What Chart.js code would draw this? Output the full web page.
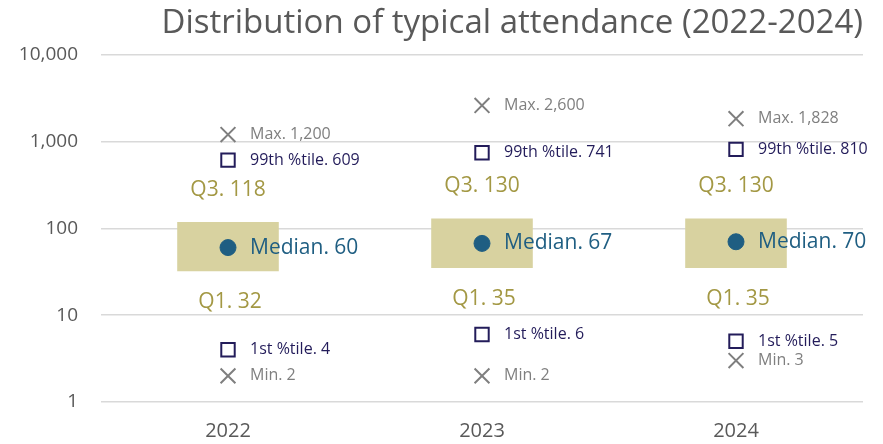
<!DOCTYPE html>
<html>
<head>
<meta charset="utf-8">
<script src="https://cdn.jsdelivr.net/npm/chart.js@4"></script>
<style>
    html, body { margin: 0; padding: 0; background: #ffffff; }
    #wrap { width: 883px; height: 444px; }
</style>
</head>
<body>
<div id="wrap"><canvas id="chart"></canvas></div>
<script>
const years = ['2022', '2023', '2024'];
const maxVals = [1200, 2600, 1828];
const p99Vals = [609, 741, 810];
const q3Vals = [118, 130, 130];
const medianVals = [60, 67, 70];
const q1Vals = [32, 35, 35];
const p1Vals = [4, 6, 5];
const minVals = [2, 2, 3];
const yTicks = [1, 10, 100, 1000, 10000];

const FONT = "'Open Sans', sans-serif";
const fmt = v => v.toLocaleString('en-US');

// labels next to the markers, drawn after the datasets
const labelPlugin = {
    id: 'boxLabels',
    afterDatasetsDraw(chart) {
        const ctx = chart.ctx;
        const xs = chart.scales.x;
        const ys = chart.scales.y;
        ctx.save();
        ctx.textBaseline = 'middle';

        const side = (vals, prefix, color, size) => {
            ctx.font = size + 'px ' + FONT;
            ctx.fillStyle = color;
            ctx.textAlign = 'left';
            vals.forEach((v, i) => {
                ctx.fillText(prefix + fmt(v), xs.getPixelForValue(i) + 22, ys.getPixelForValue(v));
            });
        };
        side(maxVals, 'Max. ', '#7f7f7f', 16);
        side(p99Vals, '99th %tile. ', '#231c5a', 16);
        side(medianVals, 'Median. ', '#1f5e82', 21);
        side(p1Vals, '1st %tile. ', '#231c5a', 16);
        side(minVals, 'Min. ', '#7f7f7f', 16);

        ctx.font = '21px ' + FONT;
        ctx.fillStyle = '#a39844';
        ctx.textAlign = 'center';
        q3Vals.forEach((v, i) => {
            ctx.fillText('Q3. ' + fmt(v), xs.getPixelForValue(i), ys.getPixelForValue(v) - 32);
        });
        q1Vals.forEach((v, i) => {
            ctx.fillText('Q1. ' + fmt(v), xs.getPixelForValue(i) + 2, ys.getPixelForValue(v) + 31);
        });
        ctx.restore();
    }
};

const markerSet = (label, data, style, radius, border, fill, width) => ({
    type: 'line',
    label: label,
    data: data,
    showLine: false,
    pointStyle: style,
    pointRadius: radius,
    pointHoverRadius: radius,
    pointBorderColor: border,
    pointBackgroundColor: fill,
    pointBorderWidth: width
});

new Chart(document.getElementById('chart').getContext('2d'), {
    data: {
        labels: years,
        datasets: [
            markerSet('Median', medianVals, 'circle', 8, '#1f5e82', '#1f5e82', 1),
            markerSet('Max', maxVals, 'crossRot', 10.5, '#7f7f7f', '#7f7f7f', 2),
            markerSet('99th', p99Vals, 'rect', 9.5, '#231c5a', '#ffffff', 2),
            markerSet('1st', p1Vals, 'rect', 9.5, '#231c5a', '#ffffff', 2),
            markerSet('Min', minVals, 'crossRot', 10.5, '#7f7f7f', '#7f7f7f', 2),
            {
                type: 'bar',
                label: 'IQR',
                data: q1Vals.map((q, i) => [q, q3Vals[i]]),
                backgroundColor: '#d8d2a0',
                borderWidth: 0,
                categoryPercentage: 1,
                barPercentage: 0.4
            }
        ]
    },
    options: {
        responsive: true,
        maintainAspectRatio: false,
        animation: false,
        layout: { padding: { left: 0, right: 20, top: 0, bottom: 0 } },
        scales: {
            x: {
                type: 'category',
                offset: true,
                afterFit: axis => { axis.height = 42; },
                grid: { display: false, drawTicks: false },
                border: { display: false },
                ticks: { color: '#595959', font: { family: FONT, size: 20 }, padding: 17 }
            },
            y: {
                type: 'logarithmic',
                min: 1,
                max: 10000,
                afterBuildTicks: axis => { axis.ticks = yTicks.map(v => ({ value: v })); },
                afterFit: axis => { axis.width = 101; },
                grid: { color: '#d9d9d9', lineWidth: 1.5, drawTicks: false },
                border: { display: false },
                ticks: {
                    color: '#595959',
                    font: { family: FONT, size: 19 },
                    padding: 23,
                    callback: v => fmt(v)
                }
            }
        },
        plugins: {
            legend: { display: false },
            tooltip: { enabled: false },
            title: {
                display: true,
                text: 'Distribution of typical attendance (2022-2024)',
                align: 'end',
                color: '#595959',
                font: { family: FONT, size: 33, weight: 'normal' },
                padding: { top: 4, bottom: 11 }
            }
        }
    },
    plugins: [labelPlugin]
});
</script>
</body>
</html>
